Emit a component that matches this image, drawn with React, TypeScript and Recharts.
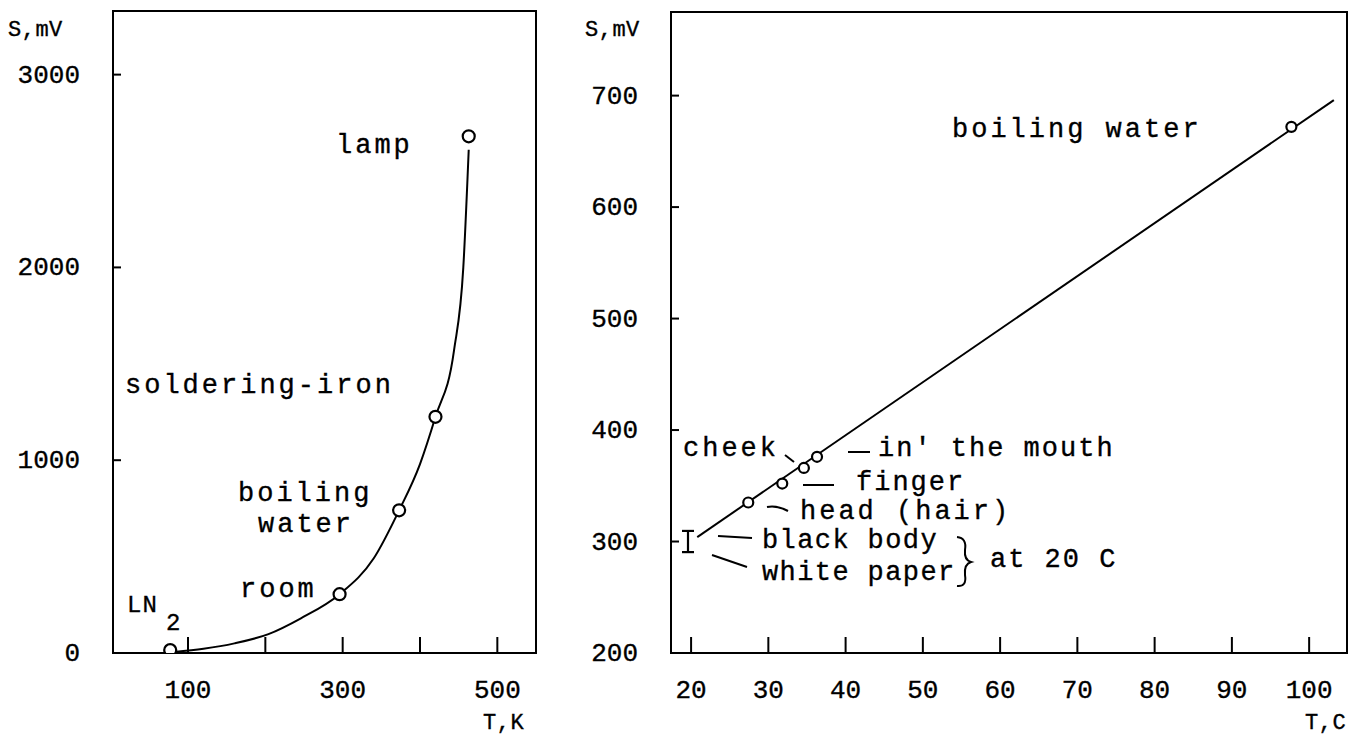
import React from 'react'
import { ComposedChart, Line, Scatter, XAxis, YAxis, ReferenceArea, ErrorBar } from 'recharts'

const FONT = '"Liberation Mono", "DejaVu Sans Mono", monospace'

// left panel: signal vs absolute temperature
const kelvinTicks = [100, 200, 300, 400, 500]
const kelvinLabels = ['100', '', '300', '', '500']
const kelvinSignalTicks = [0, 1000, 2000, 3000]
const kelvinSources = ['LN2', 'room', 'boiling water', 'soldering-iron', 'lamp']
const kelvinT = [77, 296, 373, 420, 463]
const kelvinS = [15, 305, 740, 1225, 2680]
// points
const curveT = [82, 120, 160, 204, 246, 296, 340, 373, 400, 420, 444, 456, 463]
const curveS = [5, 22, 50, 98, 180, 305, 490, 740, 980, 1225, 1570, 2000, 2610]

// right panel: signal vs celsius temperature
const celsiusTicks = [20, 30, 40, 50, 60, 70, 80, 90, 100]
const celsiusSignalTicks = [200, 300, 400, 500, 600, 700]
const bodySources = ['head (hair)', 'finger', 'cheek', 'in the mouth', 'boiling water']
const bodyT = [27.4, 31.8, 34.6, 36.3, 97.7]
const bodyS = [335, 352, 366, 376, 672]
const refT = [19.6]
const refS = [300]
const refErr = [9.5]
const fitT = [20.8, 103.2]
const fitS = [304, 696]

const kelvinPoints = kelvinT.map((t, i) => ({ t, s: kelvinS[i], name: kelvinSources[i] }))
const kelvinCurve = curveT.map((t, i) => ({ t, s: curveS[i] }))
const bodyPoints = bodyT.map((t, i) => ({ t, s: bodyS[i], name: bodySources[i] }))
const refPoints = refT.map((t, i) => ({ t, s: refS[i], e: refErr[i] }))
const fitLine = fitT.map((t, i) => ({ t, s: fitS[i] }))

const txt = { fontFamily: FONT, fill: '#000', stroke: '#000', strokeWidth: 0.35 }

const makeXTick = (labels?: Record<number, string>) => (props: any) => {
  const { x, y, payload } = props
  const label = labels ? labels[payload.value] ?? '' : String(payload.value)
  return (
    <g>
      <line x1={x} y1={y} x2={x} y2={y - 16} stroke="#000" strokeWidth={2} />
      <text x={x} y={y + 45} textAnchor="middle" fontSize={26} {...txt}>{label}</text>
    </g>
  )
}

const YTick = (props: any) => {
  const { x, y, payload } = props
  return (
    <g>
      <line x1={x} y1={y} x2={x + 8} y2={y} stroke="#000" strokeWidth={2} />
      <text x={x - 33} y={y + 8} textAnchor="end" fontSize={26} {...txt}>{payload.value}</text>
    </g>
  )
}

const Ring = (r: number) => (props: any) => (
  <circle cx={props.cx} cy={props.cy} r={r} fill="#fff" stroke="#000" strokeWidth={2.2} />
)

const kelvinLabelMap: Record<number, string> = {}
kelvinTicks.forEach((t, i) => { kelvinLabelMap[t] = kelvinLabels[i] })

function LeftPanel() {
  const xd: [number, number] = [3, 550]
  const yd: [number, number] = [0, 3330]
  return (
    <ComposedChart width={560} height={736} margin={{ top: 11, right: 24, bottom: 82, left: 112 }}>
      <XAxis type="number" dataKey="t" domain={xd} ticks={kelvinTicks} interval={0} allowDataOverflow
        height={1} tickSize={0} tickMargin={0} axisLine={false} tickLine={false} tick={makeXTick(kelvinLabelMap)} />
      <YAxis type="number" dataKey="s" domain={yd} ticks={kelvinSignalTicks} interval={0} allowDataOverflow
        width={1} tickSize={0} tickMargin={0} axisLine={false} tickLine={false} tick={YTick} />
      <ReferenceArea x1={xd[0]} x2={xd[1]} y1={yd[0]} y2={yd[1]} fill="none" fillOpacity={0} stroke="#000" strokeWidth={2} />
      <Line data={kelvinCurve} dataKey="s" type="monotone" stroke="#000" strokeWidth={2} dot={false} isAnimationActive={false} />
      <Scatter data={kelvinPoints} shape={Ring(6)} isAnimationActive={false} />
    </ComposedChart>
  )
}

function RightPanel() {
  const xd: [number, number] = [17.4, 104.9]
  const yd: [number, number] = [200, 775]
  return (
    <ComposedChart width={794} height={736} margin={{ top: 12, right: 7, bottom: 82, left: 110 }}>
      <XAxis type="number" dataKey="t" domain={xd} ticks={celsiusTicks} interval={0} allowDataOverflow
        height={1} tickSize={0} tickMargin={0} axisLine={false} tickLine={false} tick={makeXTick()} />
      <YAxis type="number" dataKey="s" domain={yd} ticks={celsiusSignalTicks} interval={0} allowDataOverflow
        width={1} tickSize={0} tickMargin={0} axisLine={false} tickLine={false} tick={YTick} />
      <ReferenceArea x1={xd[0]} x2={xd[1]} y1={yd[0]} y2={yd[1]} fill="none" fillOpacity={0} stroke="#000" strokeWidth={2} />
      <Line data={fitLine} dataKey="s" type="linear" stroke="#000" strokeWidth={2} dot={false} isAnimationActive={false} />
      <Scatter data={refPoints} shape={() => <g />} isAnimationActive={false}>
        <ErrorBar dataKey="e" direction="y" width={6} stroke="#000" strokeWidth={2.2} />
      </Scatter>
      <Scatter data={bodyPoints} shape={Ring(5)} isAnimationActive={false} />
    </ComposedChart>
  )
}

function Notes() {
  const big = { ...txt, fontSize: 27, letterSpacing: 3 }
  const mid = { ...txt, fontSize: 27, letterSpacing: 2 }
  const tight = { ...txt, fontSize: 27, letterSpacing: 1.4 }
  const unit = { ...txt, fontSize: 22, letterSpacing: 0.5 }
  const lead = { stroke: '#000', strokeWidth: 2, fill: 'none' }
  return (
    <svg width={1354} height={736} style={{ position: 'absolute', left: 0, top: 0, pointerEvents: 'none' }}>
      {/* left panel */}
      <text x={8} y={36} {...unit}>S,mV</text>
      <text x={483} y={729} {...unit}>T,K</text>
      <text x={336} y={153} {...big}>lamp</text>
      <text x={125} y={393} {...big}>soldering-iron</text>
      <text x={238} y={501} {...big}>boiling</text>
      <text x={258} y={532} {...big}>water</text>
      <text x={240} y={597} {...big}>room</text>
      <text x={127} y={612} {...txt} fontSize={24} letterSpacing={1}>LN</text>
      <text x={166} y={630} {...txt} fontSize={24}>2</text>

      {/* right panel */}
      <text x={585} y={36} {...unit}>S,mV</text>
      <text x={1305} y={729} {...unit}>T,C</text>
      <text x={952} y={137} {...big}>boiling water</text>
      <text x={683} y={456} {...big}>cheek</text>
      <line x1={785} y1={455} x2={794} y2={462} {...lead} />
      <line x1={848} y1={452} x2={870} y2={452} {...lead} />
      <text x={878} y={456} {...mid}>in' the mouth</text>
      <line x1={803} y1={485} x2={834} y2={485} {...lead} />
      <text x={856} y={490} {...mid}>finger</text>
      <path d="M767 507 Q777 505 788 511" {...lead} />
      <text x={800} y={519} {...big}>head (hair)</text>
      <line x1={718} y1={536} x2={752} y2={538} {...lead} />
      <text x={762} y={548} {...tight}>black body</text>
      <line x1={712} y1={555} x2={747} y2={567} {...lead} />
      <text x={762} y={580} {...tight}>white paper</text>
      <path d="M957 537 Q967 538 965 550 Q964 560 971 562 Q964 564 965 575 Q967 587 957 586" {...lead} />
      <text x={990} y={567} {...mid}>at 20 C</text>
    </svg>
  )
}

export default function App() {
  return (
    <div style={{ position: 'absolute', left: 0, top: 0, width: 1354, height: 736, background: '#fff' }}>
      <div style={{ position: 'absolute', left: 0, top: 0 }}>
        <LeftPanel />
      </div>
      <div style={{ position: 'absolute', left: 560, top: 0 }}>
        <RightPanel />
      </div>
      <Notes />
    </div>
  )
}
